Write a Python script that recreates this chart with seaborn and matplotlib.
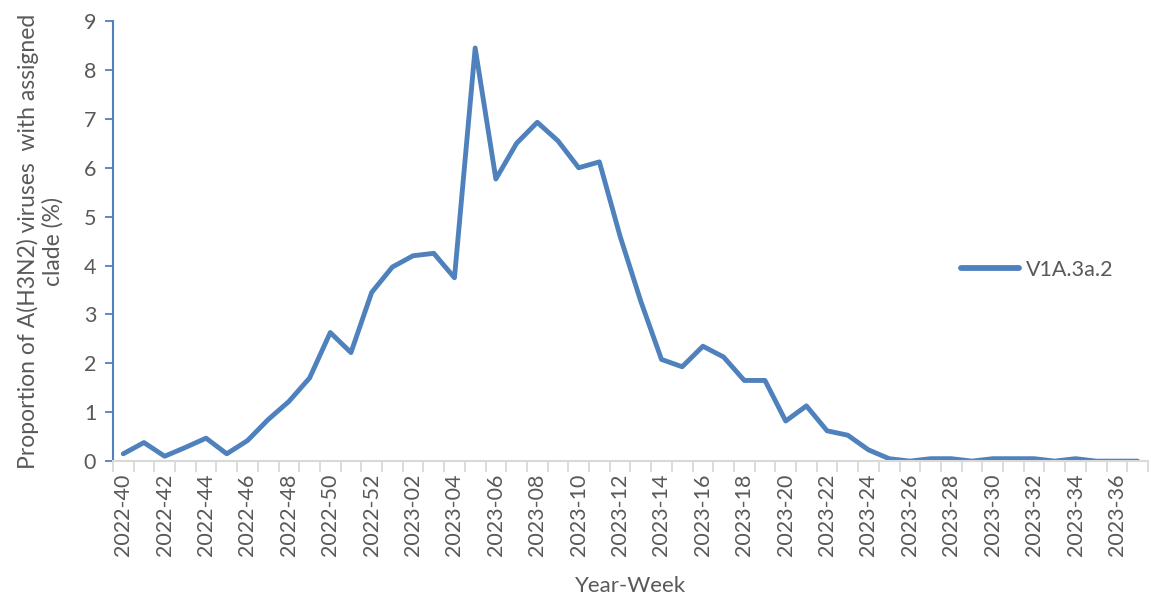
import matplotlib
matplotlib.use("Agg")
import matplotlib.pyplot as plt
import seaborn as sns
import pandas as pd
import numpy as np
from matplotlib.ticker import FixedLocator

weeks_2022 = [f"2022-{w}" for w in range(40, 53)]
weeks_2023 = [f"2023-{w:02d}" for w in range(1, 38)]
weeks = weeks_2022 + weeks_2023

values = [0.15, 0.38, 0.10, 0.28, 0.47, 0.15, 0.42, 0.85, 1.22, 1.70,
          2.63, 2.22, 3.45, 3.97, 4.20, 4.25, 3.75, 8.45, 5.77, 6.50,
          6.93, 6.55, 6.00, 6.12, 4.60, 3.27, 2.08, 1.93, 2.35, 2.13,
          1.65, 1.65, 0.82, 1.13, 0.62, 0.53, 0.23, 0.05, 0.00, 0.05,
          0.05, 0.00, 0.05, 0.05, 0.05, 0.00, 0.05, 0.00, 0.00, 0.00]

series_name = "V1A.3a.2"
y_ticks = list(range(0, 10))

df = pd.DataFrame({"week": weeks, "value": values, "clade": series_name})

sns.set_style("white")
plt.rcParams["font.family"] = ["Lato", "DejaVu Sans"]
text_color = "#595959"
blue = "#4F81BD"
fs = 15.5

fig = plt.figure(figsize=(11.52, 6.02), dpi=100)
ax = fig.add_axes([0.098, 0.234, 0.8985, 0.731])

sns.lineplot(data=df, x="week", y="value", hue="clade", palette=[blue],
             linewidth=3.5, ax=ax, sort=False)

ax.set_xlim(-0.5, len(weeks) - 0.5)
ax.set_ylim(0, 9)
ax.set_yticks(y_ticks)
ax.set_yticklabels([str(t) for t in y_ticks], color=text_color, fontsize=fs)

pos = np.arange(len(weeks))
ax.set_xticks(pos[::2])
ax.set_xticklabels(weeks[::2], rotation=90, color=text_color, fontsize=fs)
ax.xaxis.set_minor_locator(FixedLocator(np.arange(len(weeks) + 1) - 0.5))
ax.tick_params(axis="x", which="major", length=0, pad=9, bottom=True)
ax.tick_params(axis="x", which="minor", length=8, color="#D9D9D9", width=1.3,
               direction="out", bottom=True)
ax.tick_params(axis="y", which="major", length=6, color=blue, width=1.3,
               direction="out", pad=6, left=True)

for s in ["top", "right"]:
    ax.spines[s].set_visible(False)
ax.spines["left"].set_color(blue)
ax.spines["left"].set_linewidth(1.5)
ax.spines["bottom"].set_color("#D9D9D9")
ax.spines["bottom"].set_linewidth(1.5)

ax.set_xlabel("Year-Week", color=text_color, fontsize=16)
ax.xaxis.set_label_coords(0.5, -0.26)
ax.set_ylabel("Proportion of A(H3N2) viruses  with assigned\nclade (%)",
              color=text_color, fontsize=16.5, linespacing=1.15)
ax.yaxis.set_label_coords(-0.048, 0.5)

leg = ax.legend(loc="center left", bbox_to_anchor=(0.801, 0.435), frameon=False,
                fontsize=fs, handlelength=2.7, handletextpad=0.3)
for t in leg.get_texts():
    t.set_color(text_color)
for h in leg.get_lines():
    h.set_linewidth(4.2)
    h.set_solid_capstyle("round")

fig.savefig("out.png", dpi=100)
